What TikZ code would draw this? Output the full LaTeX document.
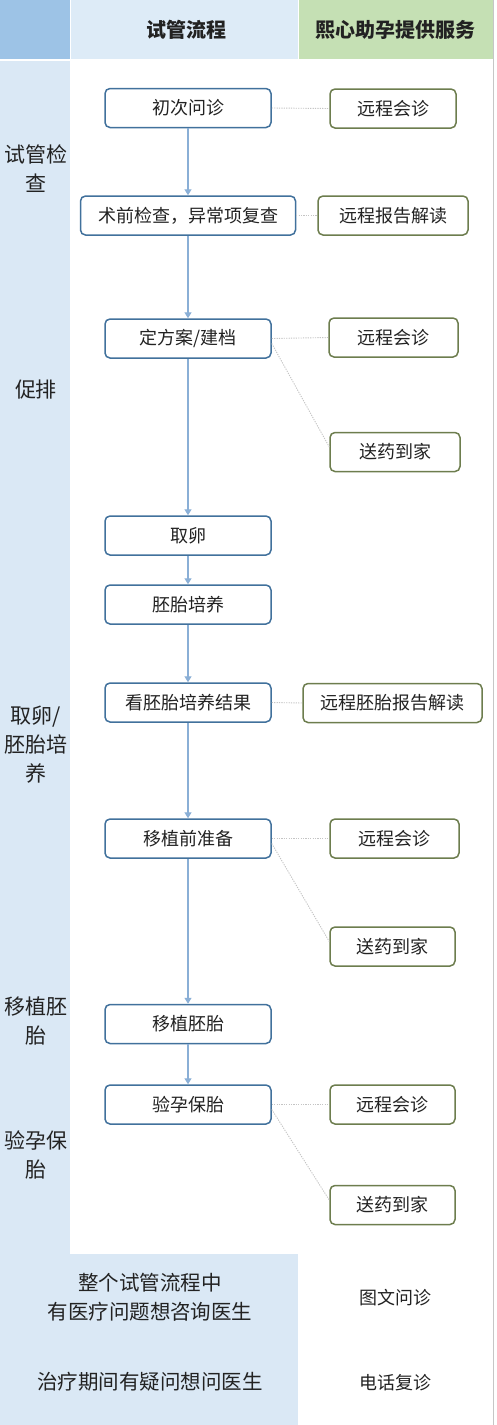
\documentclass[tikz,border=0pt]{standalone}
\usepackage{fontspec}
\setmainfont{Noto Sans CJK SC}
\usetikzlibrary{arrows.meta}
\definecolor{colblue}{HTML}{DAE8F5}
\definecolor{hdrdark}{HTML}{9DC3E6}
\definecolor{hdrmid}{HTML}{DDEBF7}
\definecolor{hdrgreen}{HTML}{C5E0B4}
\definecolor{procline}{HTML}{41719C}
\definecolor{servline}{HTML}{6D7D4E}
\definecolor{arrowc}{HTML}{8AAFD6}
\definecolor{dotc}{HTML}{C4C4C4}
\definecolor{txt}{HTML}{222222}
\begin{document}
\begin{tikzpicture}[x=1pt,y=-1pt,
  proc/.style={draw=procline, line width=1.5pt, fill=white, rounded corners=5pt,
    minimum width=166pt, minimum height=39pt, inner sep=0pt, text=txt,
    font=\fontsize{18}{20}\selectfont},
  serv/.style={draw=servline, line width=1.5pt, fill=white, rounded corners=5pt,
    minimum height=39pt, inner sep=0pt, text=txt,
    font=\fontsize{18}{20}\selectfont},
  lab/.style={align=center, text=txt, inner sep=0pt, font=\fontsize{21}{29}\selectfont},
  hdr/.style={text=txt, inner sep=0pt, font=\fontsize{20}{22}\selectfont\bfseries},
  btxt/.style={align=center, text=txt, inner sep=0pt, font=\fontsize{20.5}{29}\selectfont},
  flow/.style={draw=arrowc, line width=1.2pt, -{Triangle[length=6pt,width=7pt]}},
  link/.style={draw=dotc, line width=0.9pt, dash pattern=on 1.2pt off 1.2pt}
]
\useasboundingbox (0,0) rectangle (496,1425);
\fill[white] (0,0) rectangle (496,1425);
% header
\fill[hdrdark] (0,0) rectangle (70,59);
\fill[hdrmid] (71,0) rectangle (298,59);
\fill[hdrgreen] (299,0) rectangle (493,59);
% left column and bottom block
\fill[colblue] (0,61) rectangle (70,1425);
\fill[colblue] (70,1254) rectangle (298,1425);
\draw[gray!45, line width=0.8pt] (493.5,0) -- (493.5,1425);

\node[hdr] (h1) at (186,30) {试管流程};
\node[hdr] (h2) at (395,30) {熙心助孕提供服务};

% left labels
\node[lab] (l1) at (36,169) {试管检\\查};
\node[lab] (l2) at (36,390) {促排};
\node[lab] (l3) at (36,745) {取卵/\\胚胎培\\养};
\node[lab] (l4) at (36,1021) {移植胚\\胎};
\node[lab] (l5) at (36,1155) {验孕保\\胎};

% process
\node[proc] (p1) at (188,108) {初次问诊};
\node[proc, minimum width=215pt] (p2) at (188,215.5) {术前检查，异常项复查};
\node[proc] (p3) at (188,338.5) {定方案/建档};
\node[proc] (p4) at (188,535.5) {取卵};
\node[proc] (p5) at (188,604.5) {胚胎培养};
\node[proc] (p6) at (188,702.5) {看胚胎培养结果};
\node[proc] (p7) at (188,838.5) {移植前准备};
\node[proc] (p8) at (188,1024) {移植胚胎};
\node[proc] (p9) at (188,1104.5) {验孕保胎};

% services
\node[serv, minimum width=126pt] (s1) at (393,108.5) {远程会诊};
\node[serv, minimum width=150pt] (s2) at (393,215.5) {远程报告解读};
\node[serv, minimum width=129pt] (s3) at (393.5,337.5) {远程会诊};
\node[serv, minimum width=130pt] (s4) at (395,452) {送药到家};
\node[serv, minimum width=179pt] (s5) at (392.5,703) {远程胚胎报告解读};
\node[serv, minimum width=129pt] (s6) at (394.5,838.5) {远程会诊};
\node[serv, minimum width=125pt] (s7) at (392.5,946.5) {送药到家};
\node[serv, minimum width=125pt] (s8) at (392.5,1104.5) {远程会诊};
\node[serv, minimum width=125pt] (s9) at (392.5,1205) {送药到家};

% flow arrows
\draw[flow] (p1) -- (p2);
\draw[flow] (p2) -- (p3);
\draw[flow] (p3) -- (p4);
\draw[flow] (p4) -- (p5);
\draw[flow] (p5) -- (p6);
\draw[flow] (p6) -- (p7);
\draw[flow] (p7) -- (p8);
\draw[flow] (p8) -- (p9);

% dotted links
\draw[link] (p1.east) -- (s1.west);
\draw[link] (p2.east) -- (s2.west);
\draw[link] (p3.east) -- (s3.west);
\draw[link] ([yshift=-5pt]p3.east) -- ([yshift=5pt]s4.west);
\draw[link] (p6.east) -- (s5.west);
\draw[link] (p7.east) -- (s6.west);
\draw[link] ([yshift=-5pt]p7.east) -- ([yshift=5pt]s7.west);
\draw[link] (p9.east) -- (s8.west);
\draw[link] ([yshift=-5pt]p9.east) -- ([yshift=5pt]s9.west);

% bottom rows
\node[btxt] (b1) at (150,1297) {整个试管流程中\\有医疗问题想咨询医生};
\node[serv, draw=none, fill=none] (b2) at (395,1298) {图文问诊};
\node[btxt] (b3) at (150,1382) {治疗期间有疑问想问医生};
\node[serv, draw=none, fill=none] (b4) at (395,1383) {电话复诊};
\end{tikzpicture}
\end{document}
